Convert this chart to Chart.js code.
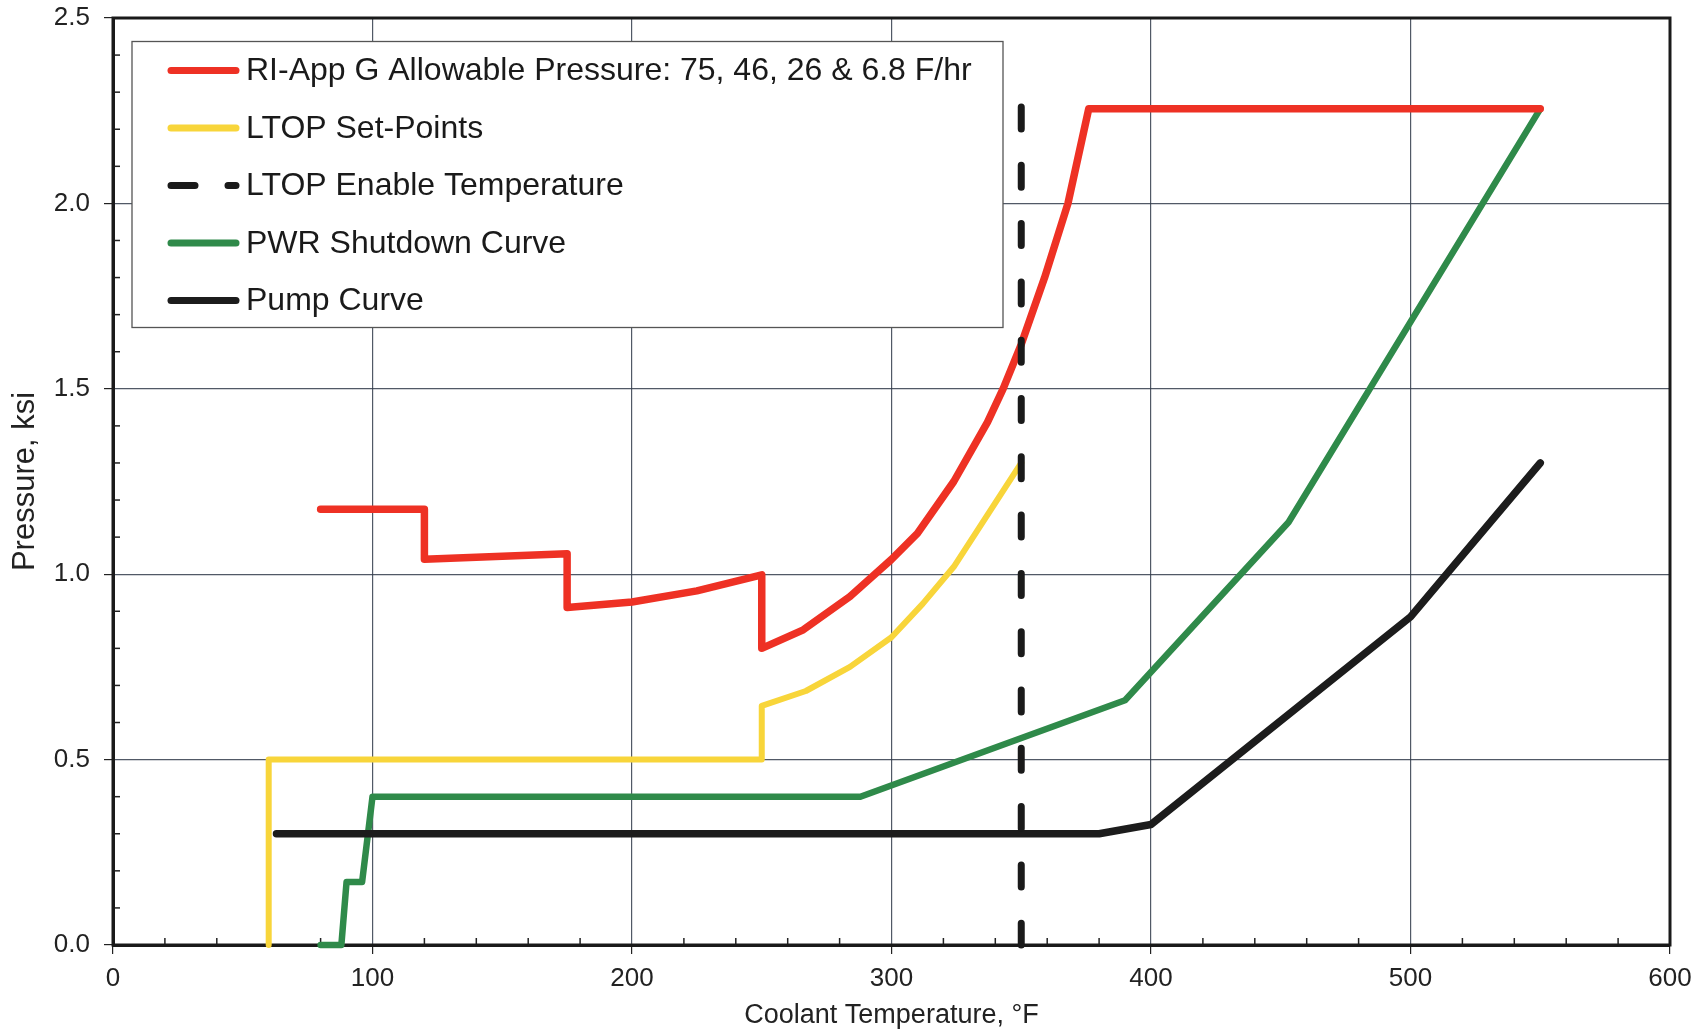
<!DOCTYPE html>
<html>
<head>
<meta charset="utf-8">
<script src="https://cdn.jsdelivr.net/npm/chart.js@4.4.0/dist/chart.umd.min.js"></script>
<style>
  html, body { margin: 0; padding: 0; background: #fff; }
  #wrap { width: 1703px; height: 1032px; }
</style>
</head>
<body>
<div id="wrap"><canvas id="ptChart"></canvas></div>
<script>
// values (temperature in °F, pressure in ksi)
const allowableT = [80, 120, 120, 175, 175, 200, 225, 250, 250, 266, 284, 300, 310, 324, 337, 343, 350, 359, 368, 376, 550];
const allowableP = [1.175, 1.175, 1.04, 1.055, 0.91, 0.925, 0.955, 0.998, 0.80, 0.85, 0.94, 1.04, 1.11, 1.25, 1.41, 1.50, 1.62, 1.80, 2.00, 2.255, 2.255];

const ltopT = [60, 60, 250, 250, 267, 284, 300, 312, 324, 337, 350];
const ltopP = [0, 0.5, 0.5, 0.645, 0.685, 0.75, 0.83, 0.92, 1.02, 1.16, 1.30];

const enableT = [350, 350];
const enableP = [2.26, 0];

const shutdownT = [80, 88, 90, 96, 100, 288, 390, 453, 550];
const shutdownP = [0, 0, 0.17, 0.17, 0.40, 0.40, 0.66, 1.14, 2.255];

const pumpT = [63, 380, 400, 500, 550];
const pumpP = [0.30, 0.30, 0.325, 0.885, 1.30];

const seriesNames = [
  "RI-App G Allowable Pressure: 75, 46, 26 & 6.8 F/hr",
  "LTOP Set-Points",
  "LTOP Enable Temperature",
  "PWR Shutdown Curve",
  "Pump Curve"
];

const tempTicks = [0, 100, 200, 300, 400, 500, 600];
const pressTicks = [0, 0.5, 1.0, 1.5, 2.0, 2.5];

const FONT = "'Liberation Sans', Arial, sans-serif";

const pts = (xs, ys) => xs.map((x, i) => ({ x: x, y: ys[i] }));

// frame + minor ticks
const framePlugin = {
  id: "frame",
  beforeDatasetsDraw(chart) {
    const { ctx, chartArea: a, scales } = chart;
    ctx.save();
    ctx.strokeStyle = "#222";
    ctx.lineWidth = 1.5;
    for (let t = 20; t < 600; t += 20) {
      if (t % 100 === 0) continue;
      const px = scales.x.getPixelForValue(t);
      ctx.beginPath();
      ctx.moveTo(px, a.bottom);
      ctx.lineTo(px, a.bottom - 7);
      ctx.stroke();
    }
    for (let i = 1; i < 25; i++) {
      if (i % 5 === 0) continue;
      const py = scales.y.getPixelForValue(i / 10);
      ctx.beginPath();
      ctx.moveTo(a.left, py);
      ctx.lineTo(a.left + 7, py);
      ctx.stroke();
    }
    ctx.lineWidth = 3;
    ctx.strokeStyle = "#1a1a1a";
    ctx.strokeRect(a.left, a.top, a.right - a.left, a.bottom - a.top);
    ctx.restore();
  }
};

// boxed legend in the upper left of the plot
const boxLegend = {
  id: "boxLegend",
  afterDatasetsDraw(chart) {
    const { ctx, chartArea: a } = chart;
    const bx = a.left + 19, by = a.top + 23.5, bw = 871, bh = 286;
    ctx.save();
    ctx.fillStyle = "#fff";
    ctx.fillRect(bx, by, bw, bh);
    ctx.strokeStyle = "#555";
    ctx.lineWidth = 1.3;
    ctx.strokeRect(bx, by, bw, bh);
    ctx.font = "32px " + FONT;
    ctx.textBaseline = "middle";
    ctx.lineCap = "round";
    chart.data.datasets.forEach((ds, i) => {
      const y = by + 29 + i * 57.5;
      const x0 = bx + 39, x1 = bx + 104;
      ctx.strokeStyle = ds.borderColor;
      ctx.lineWidth = 7;
      ctx.beginPath();
      if (ds.borderDash) {
        ctx.moveTo(x0, y); ctx.lineTo(x0 + 24, y);
        ctx.moveTo(x0 + 57, y); ctx.lineTo(x1, y);
      } else {
        ctx.moveTo(x0, y); ctx.lineTo(x1, y);
      }
      ctx.stroke();
      ctx.fillStyle = "#1a1a1a";
      ctx.fillText(ds.label, bx + 114, y + 1);
    });
    ctx.restore();
  }
};

const ctx = document.getElementById("ptChart").getContext("2d");

new Chart(ctx, {
  type: "line",
  data: {
    datasets: [
      {
        label: seriesNames[0],
        data: pts(allowableT, allowableP),
        borderColor: "#ee3124",
        borderWidth: 7.5,
        order: 1
      },
      {
        label: seriesNames[1],
        data: pts(ltopT, ltopP),
        borderColor: "#f8d53a",
        borderWidth: 6,
        order: 2
      },
      {
        label: seriesNames[2],
        data: pts(enableT, enableP),
        borderColor: "#1a1a1a",
        borderWidth: 7,
        borderDash: [22, 36.3],
        borderCapStyle: "round",
        order: 0
      },
      {
        label: seriesNames[3],
        data: pts(shutdownT, shutdownP),
        borderColor: "#2f8a4a",
        borderWidth: 6.5,
        order: 4
      },
      {
        label: seriesNames[4],
        data: pts(pumpT, pumpP),
        borderColor: "#1c1c1c",
        borderWidth: 7.5,
        order: 3
      }
    ]
  },
  options: {
    responsive: true,
    maintainAspectRatio: false,
    animation: false,
    elements: {
      point: { radius: 0 },
      line: { tension: 0, borderJoinStyle: "round", borderCapStyle: "round", fill: false }
    },
    datasets: { line: { clip: false } },
    layout: { padding: { top: 18, right: 33, left: 0, bottom: 0 } },
    plugins: {
      legend: { display: false },
      tooltip: { enabled: false }
    },
    scales: {
      x: {
        type: "linear",
        min: 0,
        max: 600,
        afterFit: (s) => { s.height = 87; s.paddingLeft = 0; s.paddingRight = 0; },
        afterBuildTicks: (s) => { s.ticks = tempTicks.map((v) => ({ value: v })); },
        grid: { color: "rgba(50,60,75,0.85)", lineWidth: 1.2, tickLength: 9, tickColor: "#222" },
        border: { color: "#1a1a1a", width: 3 },
        ticks: { color: "#222", padding: 9, font: { family: FONT, size: 26 } },
        title: {
          display: true,
          text: "Coolant Temperature, °F",
          color: "#222",
          padding: { top: 0, bottom: 0 },
          font: { family: FONT, size: 27 }
        }
      },
      y: {
        type: "linear",
        min: 0,
        max: 2.5,
        afterFit: (s) => { s.width = 113; s.paddingTop = 0; s.paddingBottom = 0; },
        afterBuildTicks: (s) => { s.ticks = pressTicks.map((v) => ({ value: v })); },
        grid: { color: "rgba(50,60,75,0.85)", lineWidth: 1.2, tickLength: 9, tickColor: "#222" },
        border: { color: "#1a1a1a", width: 3 },
        ticks: {
          color: "#222",
          padding: 14,
          font: { family: FONT, size: 26 },
          callback: (v) => Number(v).toFixed(1)
        },
        title: {
          display: true,
          text: "Pressure, ksi",
          color: "#222",
          padding: { top: 7, bottom: 0 },
          font: { family: FONT, size: 31 }
        }
      }
    }
  },
  plugins: [framePlugin, boxLegend]
});
</script>
</body>
</html>
